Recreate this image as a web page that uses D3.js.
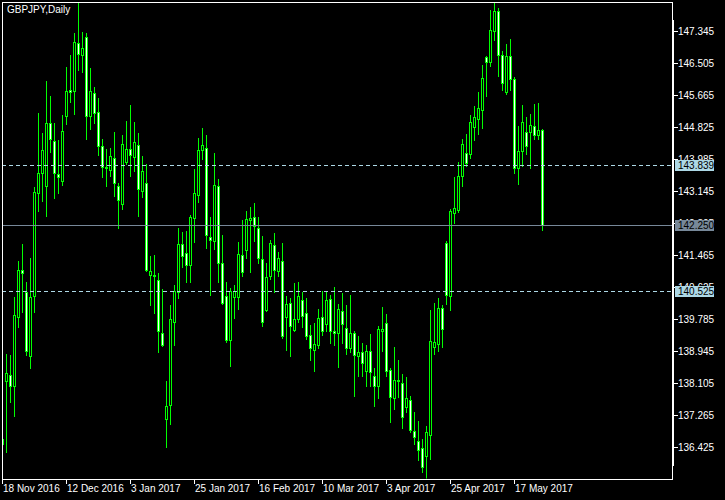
<!DOCTYPE html>
<html><head><meta charset="utf-8">
<script src="https://cdn.jsdelivr.net/npm/d3@7"></script>
<style>html,body{margin:0;padding:0;background:#000;}svg{display:block;}</style>
</head><body>
<script>
const symbolTitle = "GBPJPY,Daily";
const opens = [136.63,138.15,138.31,138.02,139.83,141.06,140.49,138.81,140.38,143.08,143.61,143.27,144.92,144.45,143.58,143.40,145.11,145.79,145.76,147.02,146.71,147.18,145.11,145.71,145.21,144.32,143.77,143.69,144.00,143.27,142.80,143.90,144.24,144.03,144.34,143.14,143.35,140.93,140.93,140.80,139.41,137.15,137.52,139.70,140.49,141.75,141.51,141.19,142.43,143.03,144.21,144.27,141.93,141.82,143.27,141.25,140.38,139.23,140.35,140.35,141.46,141.59,142.38,142.45,142.17,141.35,140.01,140.91,141.72,141.04,141.30,139.83,140.20,139.49,139.78,140.28,139.93,139.36,138.96,139.09,139.83,139.65,140.30,139.46,139.41,139.99,139.54,139.02,139.41,138.81,138.91,138.41,138.94,138.28,138.02,139.46,139.67,138.44,137.70,138.18,138.10,137.47,137.65,136.84,136.57,136.39,136.18,136.73,139.04,139.12,140.07,141.77,140.38,142.56,142.64,143.53,144.13,144.11,144.82,145.03,145.26,146.65,146.52,147.34,147.86,146.71,145.74,146.68,146.08,143.74,144.19,144.69,144.69,144.84,144.61,144.74];
const highs = [136.73,138.86,138.83,140.35,141.30,141.75,140.75,141.38,143.24,145.18,144.66,146.02,145.63,144.92,144.48,145.13,146.39,146.71,147.28,148.10,147.31,147.28,146.37,145.87,145.58,144.50,144.24,144.27,144.69,143.35,144.61,144.97,145.39,144.95,144.66,144.06,143.85,141.43,141.46,140.98,140.56,138.15,140.14,140.67,142.17,142.06,142.09,142.51,143.71,144.53,144.79,144.61,142.45,144.13,143.45,141.98,140.75,140.59,140.67,141.80,142.38,142.61,142.72,142.82,142.45,141.96,141.25,141.85,142.03,141.54,141.77,140.38,140.33,140.72,140.75,140.49,140.33,139.62,139.67,140.04,140.51,140.49,140.41,140.62,140.17,140.46,140.14,140.41,139.46,139.33,139.15,139.09,139.38,138.49,139.59,140.09,139.91,138.49,139.04,138.70,138.33,138.25,137.76,137.34,137.10,136.63,136.97,140.01,140.20,140.33,140.14,141.82,142.66,143.50,143.90,144.50,144.63,145.13,145.37,145.74,146.44,146.68,147.89,148.10,147.94,146.81,147.00,147.13,146.13,144.84,145.39,145.08,145.16,145.42,145.45,144.76];
const lows = [136.36,136.29,137.60,137.23,139.57,139.96,138.83,138.49,139.96,142.61,142.87,142.48,144.16,142.95,143.08,143.29,144.90,145.47,145.16,146.31,146.26,144.50,144.76,144.92,144.08,143.50,143.27,143.53,143.01,142.17,142.66,143.85,143.53,143.66,142.48,142.98,141.04,140.14,139.93,138.91,139.07,136.42,137.02,139.09,140.33,141.14,140.75,140.75,141.80,142.85,143.98,141.64,140.41,141.61,140.75,140.17,139.17,138.54,139.80,140.04,140.91,141.38,141.01,141.82,141.25,139.59,139.99,140.83,140.49,140.91,139.28,138.96,138.81,139.46,139.70,139.57,139.25,138.70,138.41,139.02,139.36,139.46,139.15,139.09,138.52,139.15,138.86,138.91,137.76,138.28,138.28,138.02,138.02,137.49,137.70,138.94,138.28,137.07,137.41,137.73,136.92,137.34,136.81,136.50,136.08,135.76,135.60,136.10,138.86,138.94,139.04,140.17,140.01,142.30,142.59,143.27,143.79,144.00,144.48,144.63,144.79,145.63,146.42,147.10,146.16,145.79,145.68,145.79,143.61,143.32,143.79,144.11,143.74,144.50,144.50,142.11];
const closes = [136.50,138.36,138.02,139.88,141.06,140.98,138.94,140.35,143.11,143.61,144.21,144.92,144.50,143.61,143.50,144.71,145.76,145.74,147.05,146.73,146.89,145.11,145.76,145.18,144.32,143.77,143.74,144.06,143.35,142.90,144.37,144.24,144.08,144.42,143.19,143.66,141.06,141.04,140.91,139.46,139.09,137.49,139.78,140.51,141.75,141.43,141.19,142.45,143.08,144.21,144.34,141.98,141.85,143.29,141.25,140.20,139.23,140.51,140.51,141.48,141.01,142.40,142.43,142.22,141.38,139.70,140.88,141.77,141.06,141.38,139.33,140.17,139.59,139.78,140.38,139.86,139.33,139.02,139.12,139.80,139.46,140.28,139.46,139.41,140.04,139.65,139.02,139.41,138.83,138.91,138.62,138.94,138.39,138.02,139.51,139.51,138.41,137.73,138.18,138.15,137.20,137.70,136.86,136.68,136.34,135.89,136.81,139.20,139.17,140.07,139.51,140.41,142.61,142.69,143.53,144.37,143.87,144.95,145.08,145.32,146.10,146.52,147.36,147.86,146.71,145.97,146.68,146.08,143.74,144.19,144.95,144.32,144.87,144.61,144.74,142.25];
const dateTickIndex = [0,16,32,48,64,80,96,112,128];
const dateTickLabels = ["18 Nov 2016","12 Dec 2016","3 Jan 2017","25 Jan 2017","16 Feb 2017","10 Mar 2017","3 Apr 2017","25 Apr 2017","17 May 2017"];
const priceTicks = [136.425,137.265,138.105,138.945,139.785,140.625,141.465,142.305,143.145,143.985,144.825,145.665,146.505,147.345];
const dashedLevels = [143.839,140.525];
const bidLevel = 142.250;

const W = 725, H = 500;
const pLeft = 2, pRight = 672, pTop = 2, pBottom = 479;
const font = "'Liberation Sans', Arial, sans-serif";
const green = "#00ff00";

const svg = d3.select("body").append("svg").attr("width", W).attr("height", H)
  .style("background", "#000").attr("shape-rendering", "crispEdges");

const x = d3.scaleLinear().domain([0, 135]).range([2.5, 542.5]);
const y = d3.scaleLinear().domain([136.425, 147.345]).range([447.5, 31.5]);
const py = v => Math.round(y(v) - 0.5) + 0.5;

svg.append("defs").append("clipPath").attr("id", "plot")
  .append("rect").attr("x", pLeft + 0.5).attr("y", pTop + 0.5).attr("width", pRight - pLeft - 1).attr("height", pBottom - pTop - 1);

const plot = svg.append("g").attr("clip-path", "url(#plot)");
const idx = d3.range(opens.length);

// wicks
plot.selectAll("line.wick").data(idx).join("line").attr("class", "wick")
  .attr("x1", i => x(i)).attr("x2", i => x(i))
  .attr("y1", i => py(highs[i]) - 0.5).attr("y2", i => py(lows[i]) + 0.5)
  .attr("stroke", green).attr("stroke-width", 1);

// bodies
idx.forEach(i => {
  const o = opens[i], c = closes[i];
  const yt = py(Math.max(o, c)), yb = py(Math.min(o, c));
  if (yb - yt < 1) {
    plot.append("line").attr("x1", x(i) - 1.5).attr("x2", x(i) + 1.5)
      .attr("y1", yt).attr("y2", yt).attr("stroke", green);
  } else {
    plot.append("rect").attr("x", x(i) - 1).attr("y", yt).attr("width", 2).attr("height", yb - yt)
      .attr("fill", c < o ? "#ffffff" : "#000000").attr("stroke", green).attr("stroke-width", 1);
  }
});

// horizontal lines
svg.selectAll("line.lvl").data(dashedLevels).join("line").attr("class", "lvl")
  .attr("x1", pLeft).attr("x2", pRight).attr("y1", d => py(d)).attr("y2", d => py(d))
  .attr("stroke", "#add8e6").attr("stroke-dasharray", "4,3");
svg.append("line").attr("x1", pLeft).attr("x2", pRight).attr("y1", py(bidLevel)).attr("y2", py(bidLevel))
  .attr("stroke", "#778899");

// frame
svg.append("rect").attr("x", pLeft + 0.5).attr("y", pTop + 0.5).attr("width", pRight - pLeft).attr("height", pBottom - pTop)
  .attr("fill", "none").attr("stroke", "#fff");
svg.append("line").attr("x1", pRight + 1.5).attr("x2", pRight + 1.5).attr("y1", 20).attr("y2", 466).attr("stroke", "#fff");

// title
svg.append("text").attr("x", 7).attr("y", 13).text(symbolTitle)
  .attr("fill", "#fff").style("font-family", font).style("font-size", "10px");

// price axis
const pa = svg.append("g");
priceTicks.forEach(v => {
  pa.append("line").attr("x1", pRight + 2).attr("x2", pRight + 6).attr("y1", py(v)).attr("y2", py(v)).attr("stroke", "#fff");
  pa.append("text").attr("x", pRight + 6).attr("y", py(v)).attr("dy", "0.35em").text(v.toFixed(3))
    .attr("fill", "#fff").style("font-family", font).style("font-size", "10px");
});
function tag(v, bg) {
  const yy = py(v);
  svg.append("rect").attr("x", 675).attr("y", yy - 5.5).attr("width", 39).attr("height", 11).attr("fill", bg);
  svg.append("text").attr("x", 678).attr("y", yy).attr("dy", "0.35em").text(v.toFixed(3))
    .attr("fill", "#000").style("font-family", font).style("font-size", "10px");
}
dashedLevels.forEach(v => tag(v, "#add8e6"));
tag(bidLevel, "#778899");

// time axis
dateTickIndex.forEach((k, j) => {
  svg.append("line").attr("x1", x(k)).attr("x2", x(k)).attr("y1", pBottom).attr("y2", pBottom + 5).attr("stroke", "#fff");
  svg.append("text").attr("x", x(k) + 0.5).attr("y", 492).text(dateTickLabels[j])
    .attr("fill", "#fff").style("font-family", font).style("font-size", "10px");
});
</script>
</body></html>
